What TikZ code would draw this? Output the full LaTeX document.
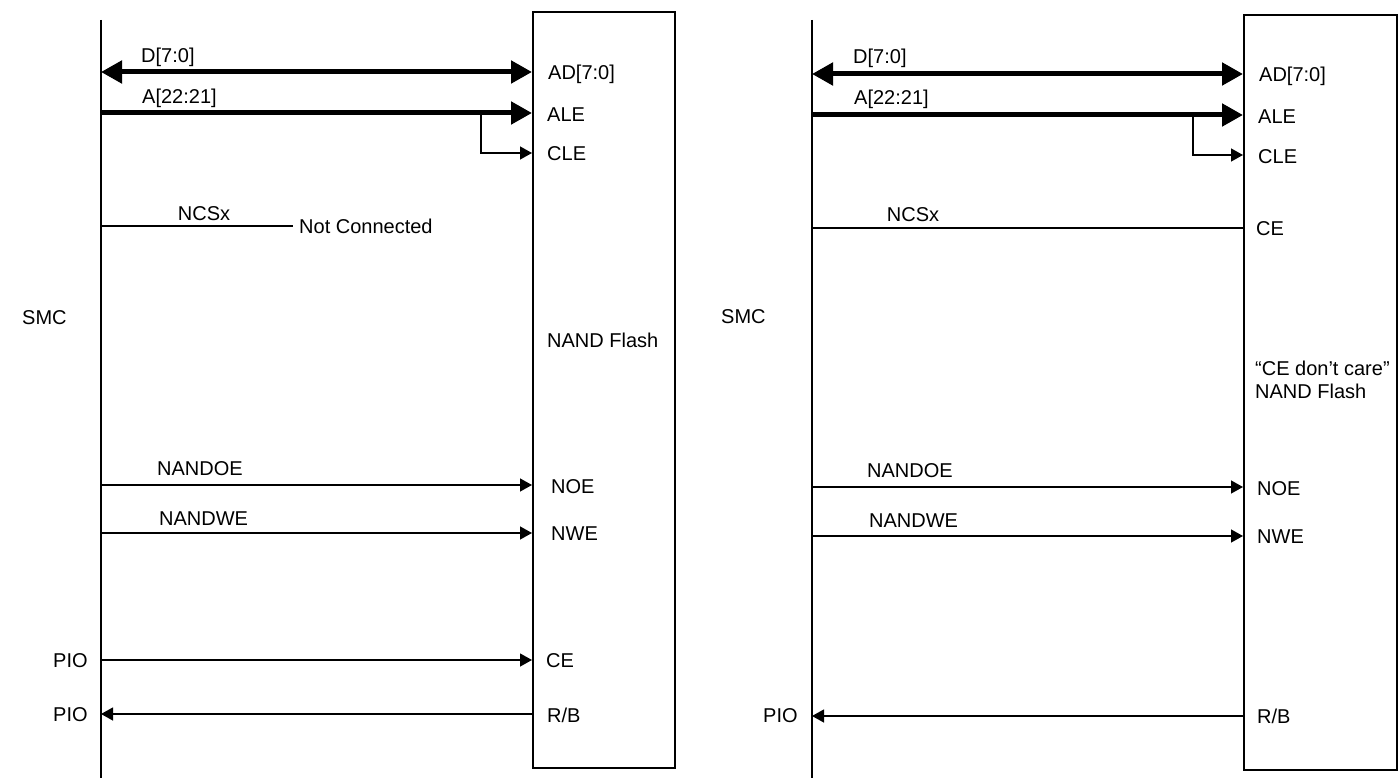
\documentclass[tikz,border=0pt]{standalone}
\usepackage{fontspec}
\setmainfont{Liberation Sans}
\usetikzlibrary{arrows.meta}
\begin{document}
\begin{tikzpicture}[x=1pt,y=-1pt,
  lbl/.style={anchor=west,inner sep=0pt,font=\fontsize{20}{24}\selectfont},
  mid/.style={anchor=center,inner sep=0pt,font=\fontsize{20}{24}\selectfont},
  chip/.style={draw,line width=2pt,inner sep=0pt,anchor=north west},
  rail/.style={line width=2.4pt},
  bus/.style={line width=5pt},
  sig/.style={line width=1.3pt},
  bigtip/.style={-{Triangle[length=21pt,width=22pt]}},
  bigboth/.style={{Triangle[length=21pt,width=22pt]}-{Triangle[length=21pt,width=22pt]}},
  smalltip/.style={-{Triangle[length=12pt,width=13pt]}}
]
\useasboundingbox (0,0) rectangle (1398,778);

% ---------------- left panel ----------------
\node[chip,minimum width=142pt,minimum height=756pt] (flashL) at (532,11) {};
\coordinate (railLt) at (101,20);
\coordinate (railLb) at (101,778);
\draw[rail] (railLt) -- (railLb);

\coordinate (dLs) at (101,72);   \coordinate (dLe) at (532,72);
\coordinate (aLs) at (101,113);  \coordinate (aLe) at (532,113);
\coordinate (brL) at (481,113);  \coordinate (cleL) at (532,153);
\coordinate (ncsLs) at (101,226); \coordinate (ncsLe) at (293,226);
\coordinate (oeLs) at (101,485); \coordinate (oeLe) at (532,485);
\coordinate (weLs) at (101,533); \coordinate (weLe) at (532,533);
\coordinate (ceLs) at (101,660); \coordinate (ceLe) at (532,660);
\coordinate (rbLs) at (532,714); \coordinate (rbLe) at (101,714);

\draw[bus,bigboth] (dLs) -- (dLe);
\draw[bus,bigtip] (aLs) -- (aLe);
\draw[sig,smalltip] (brL) |- (cleL);
\draw[sig] (ncsLs) -- (ncsLe);
\draw[sig,smalltip] (oeLs) -- (oeLe);
\draw[sig,smalltip] (weLs) -- (weLe);
\draw[sig,smalltip] (ceLs) -- (ceLe);
\draw[sig,smalltip] (rbLs) -- (rbLe);

\node[lbl] (ncL) at (299,226) {Not Connected};
\node[lbl] (tDL) at (141,57) {D[7:0]};
\node[lbl] (tAL) at (142,98) {A[22:21]};
\node[lbl] (tADL) at (548,74) {AD[7:0]};
\node[lbl] (tALEL) at (547,115) {ALE};
\node[lbl] (tCLEL) at (547,154) {CLE};
\node[mid] (tNCSL) at (204,214) {NCSx};
\node[lbl] (tSMCL) at (22,318) {SMC};
\node[lbl] (tNFL) at (547,340) {NAND Flash};
\node[lbl] (tOEL) at (157,469) {NANDOE};
\node[lbl] (tWEL) at (159,519) {NANDWE};
\node[lbl] (tNOEL) at (551,487) {NOE};
\node[lbl] (tNWEL) at (551,534) {NWE};
\node[lbl] (tPIOL1) at (53,661) {PIO};
\node[lbl] (tPIOL2) at (53,715) {PIO};
\node[lbl] (tCEL) at (546,661) {CE};
\node[lbl] (tRBL) at (547,715) {R/B};

% ---------------- right panel ----------------
\node[chip,minimum width=153pt,minimum height=755pt] (flashR) at (1243,14) {};
\coordinate (railRt) at (812,20);
\coordinate (railRb) at (812,778);
\draw[rail] (railRt) -- (railRb);

\coordinate (dRs) at (812,74);    \coordinate (dRe) at (1243,74);
\coordinate (aRs) at (812,115);   \coordinate (aRe) at (1243,115);
\coordinate (brR) at (1193,115);  \coordinate (cleR) at (1243,155);
\coordinate (ncsRs) at (812,228); \coordinate (ncsRe) at (1243,228);
\coordinate (oeRs) at (812,487);  \coordinate (oeRe) at (1243,487);
\coordinate (weRs) at (812,536);  \coordinate (weRe) at (1243,536);
\coordinate (rbRs) at (1243,716); \coordinate (rbRe) at (812,716);

\draw[bus,bigboth] (dRs) -- (dRe);
\draw[bus,bigtip] (aRs) -- (aRe);
\draw[sig,smalltip] (brR) |- (cleR);
\draw[sig] (ncsRs) -- (ncsRe);
\draw[sig,smalltip] (oeRs) -- (oeRe);
\draw[sig,smalltip] (weRs) -- (weRe);
\draw[sig,smalltip] (rbRs) -- (rbRe);

\node[lbl] (tDR) at (853,58) {D[7:0]};
\node[lbl] (tAR) at (854,99) {A[22:21]};
\node[lbl] (tADR) at (1259,76) {AD[7:0]};
\node[lbl] (tALER) at (1258,117) {ALE};
\node[lbl] (tCLER) at (1258,157) {CLE};
\node[mid] (tNCSR) at (913,215) {NCSx};
\node[lbl] (tCER) at (1256,229) {CE};
\node[lbl] (tSMCR) at (721,317) {SMC};
\node[lbl] (tCDC) at (1255,368) {“CE don’t care”};
\node[lbl] (tNFR) at (1255,391) {NAND Flash};
\node[lbl] (tOER) at (867,471) {NANDOE};
\node[lbl] (tWER) at (869,521) {NANDWE};
\node[lbl] (tNOER) at (1257,489) {NOE};
\node[lbl] (tNWER) at (1257,537) {NWE};
\node[lbl] (tPIOR) at (763,716) {PIO};
\node[lbl] (tRBR) at (1257,716) {R/B};
\end{tikzpicture}
\end{document}
